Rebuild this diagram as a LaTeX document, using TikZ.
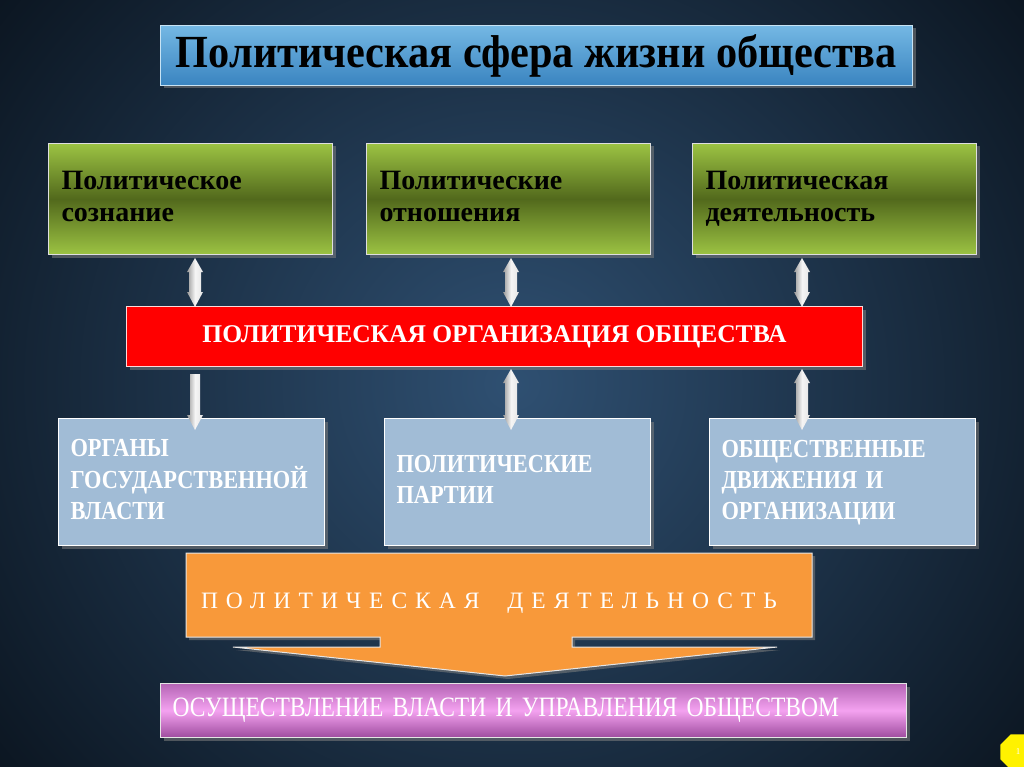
\documentclass[tikz,border=0pt]{standalone}
\usepackage{fontspec}
\setmainfont{Liberation Serif}
\newfontfamily\condfont{Liberation Serif}[FakeStretch=0.86]
\newfontfamily\purpfont{Liberation Serif}[FakeStretch=0.84]
\newfontfamily\titlefont{Liberation Serif}[FakeStretch=0.92]
\newfontfamily\spacedfont{Liberation Serif}[LetterSpace=34]
\usetikzlibrary{shapes.geometric,shadows,calc}
\definecolor{bgin}{HTML}{2F5072}
\definecolor{bgmid}{HTML}{1C3148}
\definecolor{bgout}{HTML}{0B1520}
\definecolor{titletop}{HTML}{74B8E4}
\definecolor{titlebot}{HTML}{3A84C0}
\definecolor{greenlight}{HTML}{9CC343}
\definecolor{greendark}{HTML}{52691C}
\definecolor{bluebox}{HTML}{A1BCD6}
\definecolor{orangebox}{HTML}{F8993A}
\definecolor{purptop}{HTML}{B565B5}
\definecolor{purpmid}{HTML}{F4A2F0}
\definecolor{purpbot}{HTML}{9E4C9E}
\definecolor{redbox}{HTML}{FF0000}
\newcommand\dblarrow[2]{%
  \path[arrowshade] let \p1=(#1), \p2=(#2) in
   (\x1,\y1) -- (\x1+8pt,\y1-14pt) -- (\x1+6pt,\y1-14pt) -- (\x1+6pt,\y2+15pt)
   -- (\x1+8pt,\y2+15pt) -- (\x1,\y2) -- (\x1-8pt,\y2+15pt) -- (\x1-6pt,\y2+15pt)
   -- (\x1-6pt,\y1-14pt) -- (\x1-8pt,\y1-14pt) -- cycle;}
\newcommand\sglarrow[2]{%
  \path[arrowshade] let \p1=(#1), \p2=(#2) in
   (\x1-5pt,\y1) -- (\x1+5pt,\y1) -- (\x1+5pt,\y2+15pt) -- (\x1+8pt,\y2+15pt)
   -- (\x1,\y2) -- (\x1-8pt,\y2+15pt) -- (\x1-5pt,\y2+15pt) -- cycle;}
\begin{document}
\begin{tikzpicture}[x=1pt,y=-1pt,
  shad/.style={drop shadow={shadow xshift=3pt,shadow yshift=-3pt,opacity=0.55}},
  titlebox/.style={shad,draw=white!60!titletop,line width=1pt,top color=titletop,bottom color=titlebot,
    minimum width=752,minimum height=60,anchor=north west,inner sep=0,
    font=\fontsize{46}{50}\selectfont\titlefont\bfseries},
  greenbox/.style={shad,draw=white!75!gray,line width=1pt,top color=greenlight,bottom color=greenlight,
    middle color=greendark,minimum width=284,minimum height=111,anchor=north west,
    text width=258,align=left,inner xsep=13,font=\fontsize{28}{32}\selectfont\bfseries},
  redbox/.style={shad,draw=white!85!red,line width=1pt,fill=redbox,minimum width=736,minimum height=60,
    anchor=north west,text=white,font=\fontsize{25.5}{28}\selectfont\bfseries},
  bluebox/.style={shad,draw=white,line width=1pt,fill=bluebox,minimum width=266,minimum height=127,
    anchor=north west,text width=242,align=left,inner xsep=12,text=white,
    font=\fontsize{26}{31}\selectfont\condfont\bfseries},
  purpbox/.style={shad,draw=white!80!gray,line width=1pt,top color=purptop,bottom color=purpbot,
    middle color=purpmid,minimum width=746,minimum height=54,anchor=north west,
    text width=722,align=left,inner xsep=12,text=white,font=\fontsize{28}{30}\selectfont\purpfont},
  arrowshade/.style={left color=gray!80,right color=gray!20,middle color=white!92!gray},
]
\useasboundingbox (0,0) rectangle (1024,767);
\fill[bgout] (0,0) rectangle (1024,767);
\fill[inner color=bgin,outer color=bgout] (-150,-250) rectangle (1174,1017);

% title
\node[titlebox] (title) at (160,25) {Политическая сфера жизни общества};

% green boxes
\node[greenbox] (g1) at (48,143) {\strut Политическое\\\strut сознание};
\node[greenbox] (g2) at (366,143) {\strut Политические\\\strut отношения};
\node[greenbox] (g3) at (692,143) {\strut Политическая\\\strut деятельность};

% red box
\node[redbox] (org) at (126,306) {ПОЛИТИЧЕСКАЯ ОРГАНИЗАЦИЯ ОБЩЕСТВА};

% blue boxes
\node[bluebox] (b1) at (58,418) {\strut ОРГАНЫ\\\strut ГОСУДАРСТВЕННОЙ\\\strut ВЛАСТИ};
\node[bluebox] (b2) at (384,418) {\strut ПОЛИТИЧЕСКИЕ\\\strut ПАРТИИ};
\node[bluebox] (b3) at (709,418) {\strut ОБЩЕСТВЕННЫЕ\\\strut ДВИЖЕНИЯ И\\\strut ОРГАНИЗАЦИИ};

% arrows between green boxes and red box
\dblarrow{$(195,0 |- g1.south)+(0,3)$}{$(195,0 |- org.north)+(0,1)$}
\dblarrow{$(511,0 |- g2.south)+(0,3)$}{$(511,0 |- org.north)+(0,1)$}
\dblarrow{$(802,0 |- g3.south)+(0,3)$}{$(802,0 |- org.north)+(0,1)$}

% arrows between red box and blue boxes
\sglarrow{$(195,0 |- org.south)+(0,7)$}{$(195,0 |- b1.north)+(0,12)$}
\dblarrow{$(511,0 |- org.south)+(0,2)$}{$(511,0 |- b2.north)+(0,12)$}
\dblarrow{$(802,0 |- org.south)+(0,2)$}{$(802,0 |- b3.north)+(0,12)$}

% orange block arrow
\path[shad,fill=orangebox,draw=white!80!gray,line width=1pt]
  (186,553) -- (812,553) -- (812,637) -- (572,637) -- (572,647) -- (777,647)
  -- (505,676) -- (233,647) -- (380,647) -- (380,637) -- (186,637) -- cycle;
\node[text=white,font=\fontsize{23.5}{26}\selectfont\spacedfont] (act) at (489,603)
  {ПОЛИТИЧЕСКАЯ\hspace{14pt} ДЕЯТЕЛЬНОСТЬ};

% result box
\node[purpbox] (res) at (160,683) {ОСУЩЕСТВЛЕНИЕ ВЛАСТИ И УПРАВЛЕНИЯ ОБЩЕСТВОМ};

% page badge
\node[regular polygon,regular polygon sides=8,fill=yellow,minimum size=38,inner sep=0,
  text=white,font=\fontsize{9}{9}\selectfont] (pg) at (1018,752) {1};
\end{tikzpicture}
\end{document}
